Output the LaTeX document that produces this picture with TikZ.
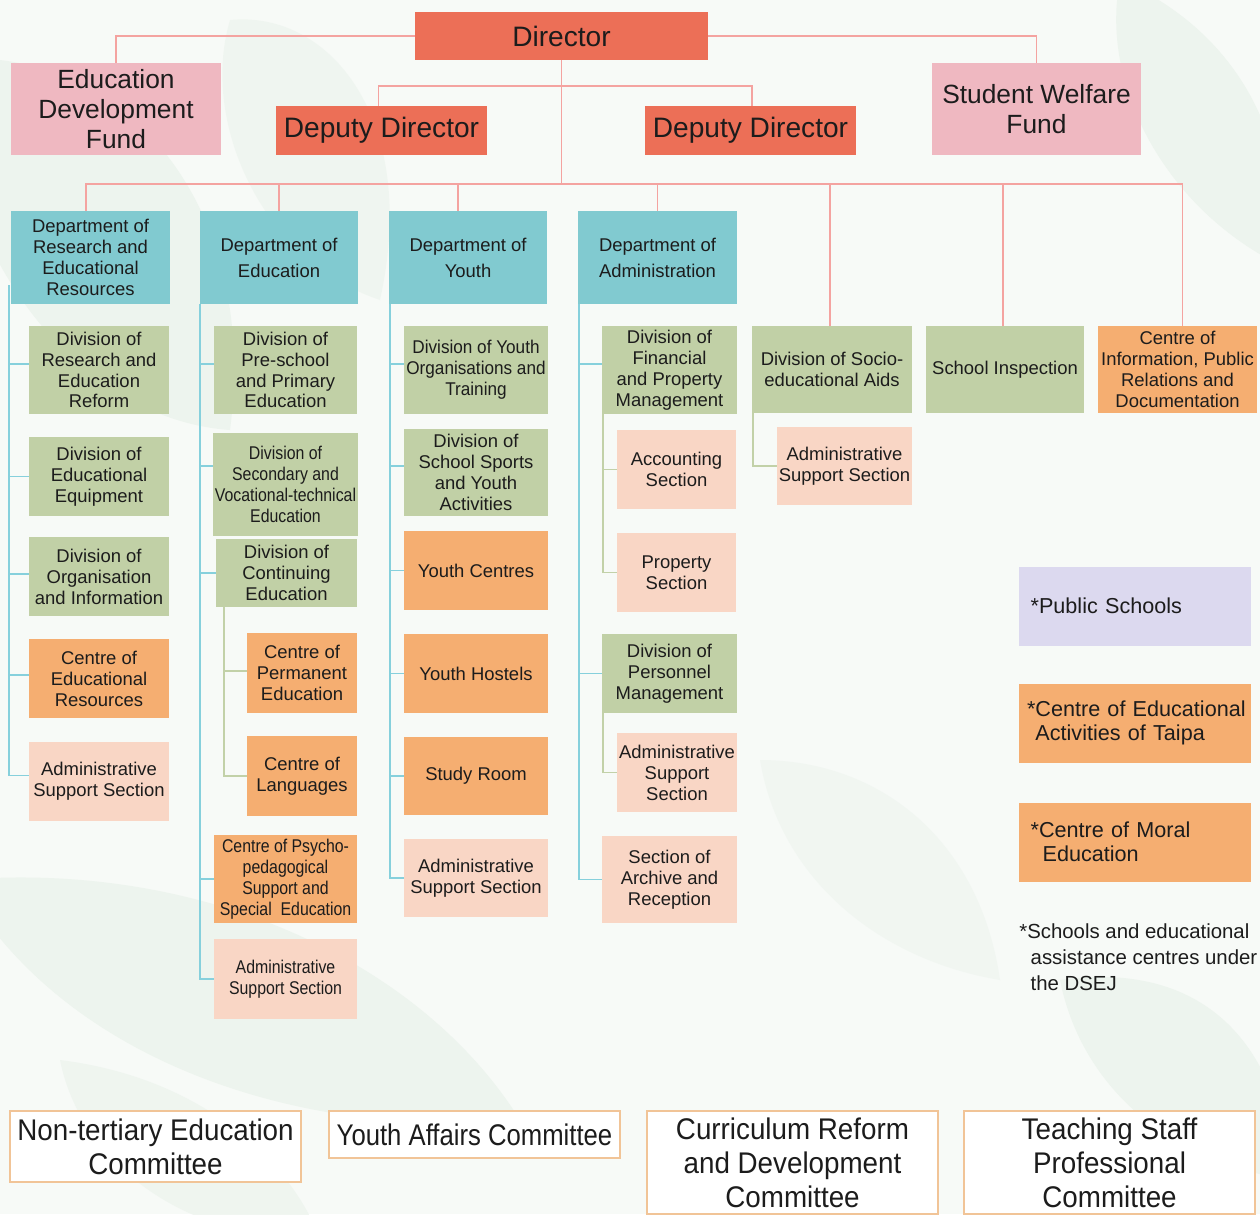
\documentclass[tikz,border=0pt]{standalone}
\usepackage{fontspec}
\setmainfont{Liberation Sans}
\newfontfamily\cf[FakeStretch=0.86]{Liberation Sans}
\newfontfamily\cfa[FakeStretch=0.93]{Liberation Sans}
\definecolor{ink}{HTML}{1C1C1C}
\definecolor{dirc}{HTML}{EC6F57}
\definecolor{fundc}{HTML}{EFB8C1}
\definecolor{deptc}{HTML}{81CAD0}
\definecolor{divc}{HTML}{C1D0A6}
\definecolor{ctrc}{HTML}{F5AE71}
\definecolor{secc}{HTML}{F9D6C5}
\definecolor{lavc}{HTML}{DCD9EF}
\definecolor{redl}{HTML}{F4A3A0}
\definecolor{tealc}{HTML}{86D0DC}
\definecolor{greenl}{HTML}{C2D1A8}
\definecolor{commc}{HTML}{F1C497}
\definecolor{bgc}{HTML}{F7FAF7}
\definecolor{leafc}{HTML}{EDF4EE}
\newcommand\ob[7]{%
  \pgfmathsetmacro\cx{(#3+#5)/2}\pgfmathsetmacro\cy{(#4+#6)/2}%
  \pgfmathsetmacro\ww{(#5-#3)*0.02}\pgfmathsetmacro\hh{(#6-#4)*0.02}%
  \node[#1, minimum width=\ww cm, minimum height=\hh cm] (#2) at (\cx,\cy) {#7};}
\tikzset{
  base/.style={inner sep=1pt, align=center, text=ink, font=\fontsize{10.5}{11.9}\selectfont},
  topbox/.style={base, fill=dirc, font=\fontsize{16}{18}\selectfont},
  fund/.style={base, fill=fundc, font=\fontsize{15}{17}\selectfont},
  dept/.style={base, fill=deptc},
  dept2/.style={base, fill=deptc, font=\fontsize{10.5}{14.7}\selectfont},
  divb/.style={base, fill=divc},
  ctr/.style={base, fill=ctrc},
  sec/.style={base, fill=secc},
  narrow/.style={font=\cf\fontsize{10.5}{11.9}\selectfont},
  semi/.style={font=\cfa\fontsize{10.5}{11.9}\selectfont},
  comm/.style={base, fill=white, draw=commc, line width=1pt, font=\cfa\fontsize{17}{19.3}\selectfont},
  sidebox/.style={inner xsep=0.16cm, inner ysep=1pt, align=left, text=ink, text width=4.32cm, font=\fontsize{12.3}{13.6}\selectfont},
  rl/.style={draw=redl, line width=1.1pt},
  tl/.style={draw=tealc, line width=1.1pt},
  gl/.style={draw=greenl, line width=1.1pt},
}
\begin{document}
\begin{tikzpicture}[x=0.02cm, y=-0.02cm]
\clip (0,0) rectangle (1260,1214);
\fill[bgc] (0,0) rectangle (1260,1214);
% faint background leaves
\fill[leafc] (-60,60) .. controls (120,40) and (260,200) .. (230,430) .. controls (90,420) and (-40,280) .. cycle;
\fill[leafc, opacity=0.7] (230,20) .. controls (330,10) and (420,120) .. (380,300) .. controls (260,260) and (200,120) .. cycle;
\fill[leafc] (1120,-20) .. controls (1260,40) and (1300,180) .. (1270,260) .. controls (1160,200) and (1100,80) .. cycle;
\fill[leafc] (-40,880) .. controls (200,860) and (420,960) .. (520,1120) .. controls (300,1140) and (60,1060) .. cycle;
\fill[leafc, opacity=0.8] (60,1060) .. controls (220,1080) and (300,1180) .. (320,1240) .. controls (180,1240) and (80,1160) .. cycle;
\fill[leafc] (1060,980) .. controls (1200,960) and (1280,1040) .. (1290,1180) .. controls (1160,1160) and (1080,1080) .. cycle;
\fill[leafc, opacity=0.6] (760,760) .. controls (880,760) and (980,840) .. (1000,980) .. controls (880,960) and (780,880) .. cycle;

% top level
\ob{topbox}{dir}{415}{12}{708}{60}{Director}
\ob{fund}{edf}{11}{63}{221}{155}{Education\\Development\\Fund}
\ob{topbox}{dep1}{276}{106}{487}{155}{Deputy Director}
\ob{topbox}{dep2}{645}{106}{856}{155}{Deputy Director}
\ob{fund}{swf}{932}{63}{1141}{155}{Student Welfare\\Fund}

% departments
\ob{dept}{d1}{11}{211}{170}{304}{Department of\\Research and\\Educational\\Resources}
\ob{dept2}{d2}{200}{211}{358}{304}{Department of\\Education}
\ob{dept2}{d3}{389}{211}{547}{304}{Department of\\Youth}
\ob{dept2}{d4}{578}{211}{737}{304}{Department of\\Administration}

% column 1
\ob{divb}{c1a}{29}{326}{169}{414}{Division of\\Research and\\Education\\Reform}
\ob{divb}{c1b}{29}{437}{169}{516}{Division of\\Educational\\Equipment}
\ob{divb}{c1c}{29}{537}{169}{616}{Division of\\Organisation\\and Information}
\ob{ctr}{c1d}{29}{639}{169}{718}{Centre of\\Educational\\Resources}
\ob{sec}{c1e}{29}{742}{169}{821}{Administrative\\Support Section}

% column 2
\ob{divb}{c2a}{214}{326}{357}{414}{Division of\\Pre-school\\and Primary\\Education}
\ob{divb, narrow}{c2b}{214}{433}{357}{536}{Division of\\Secondary and\\Vocational-technical\\Education}
\ob{divb}{c2c}{216}{539}{357}{607}{Division of\\Continuing\\Education}
\ob{ctr}{c2d}{247}{633}{357}{713}{Centre of\\Permanent\\Education}
\ob{ctr}{c2e}{247}{736}{357}{816}{Centre of\\Languages}
\ob{ctr, narrow}{c2f}{214}{835}{357}{923}{Centre of Psycho-\\pedagogical\\Support and\\Special\ \ Education}
\ob{sec, narrow}{c2g}{214}{939}{357}{1019}{Administrative\\Support Section}

% column 3
\ob{divb, semi}{c3a}{404}{326}{548}{414}{Division of Youth\\Organisations and\\Training}
\ob{divb}{c3b}{404}{429}{548}{516}{Division of\\School Sports\\and Youth\\Activities}
\ob{ctr}{c3c}{404}{531}{548}{610}{Youth Centres}
\ob{ctr}{c3d}{404}{634}{548}{713}{Youth Hostels}
\ob{ctr}{c3e}{404}{737}{548}{815}{Study Room}
\ob{sec}{c3f}{404}{839}{548}{917}{Administrative\\Support Section}

% column 4
\ob{divb}{c4a}{602}{326}{737}{414}{Division of\\Financial\\and Property\\Management}
\ob{sec}{c4b}{617}{430}{736}{509}{Accounting\\Section}
\ob{sec}{c4c}{617}{533}{736}{612}{Property\\Section}
\ob{divb}{c4d}{602}{634}{737}{713}{Division of\\Personnel\\Management}
\ob{sec}{c4e}{617}{733}{737}{812}{Administrative\\Support\\Section}
\ob{sec}{c4f}{602}{836}{737}{923}{Section of\\Archive and\\Reception}

% right units
\ob{divb}{socio}{752}{326}{912}{413}{Division of Socio-\\educational Aids}
\ob{sec}{sadm}{777}{427}{912}{505}{Administrative\\Support Section}
\ob{divb}{insp}{926}{326}{1084}{413}{School Inspection}
\ob{ctr}{cinfo}{1098}{326}{1257}{413}{Centre of\\Information, Public\\Relations and\\Documentation}

% side boxes
\node[sidebox, fill=lavc, minimum height=1.58cm] (pub) at (1135,606) {\,*Public Schools};
\node[sidebox, fill=ctrc, minimum height=1.58cm] (taipa) at (1135,723) {\mbox{*Centre of Educational}\\\hphantom{*}Activities of Taipa};
\node[sidebox, fill=ctrc, minimum height=1.58cm] (moral) at (1135,842) {\,*Centre of Moral\\\hphantom{*}\,\,Education};
\node[anchor=north west, inner sep=0pt, align=left, text=ink, font=\fontsize{11.6}{15}\selectfont] (note) at (1019,923) {*Schools and educational\\\hphantom{*}\,assistance centres under\\\hphantom{*}\,the DSEJ};

% committees
\ob{comm}{k1}{10}{1111}{301}{1182}{Non-tertiary Education\\Committee}
\ob{comm, font=\cf\fontsize{17}{19.3}\selectfont}{k2}{329}{1111}{620}{1158}{Youth Affairs Committee}
\ob{comm}{k3}{647}{1111}{938}{1214}{Curriculum Reform\\and Development\\Committee}
\ob{comm}{k4}{964}{1111}{1255}{1214}{Teaching Staff\\Professional\\Committee}

% red connectors
\coordinate (hub) at (561.5,184);
\coordinate (dj) at (561.5,86);
\draw[rl] (dir.west) -| (edf.north);
\draw[rl] (dir.east) -| (swf.north);
\draw[rl] (dir.south) -- (hub);
\draw[rl] ([xshift=-0.06cm]dep1.north) |- (dj) -| ([xshift=0.03cm]dep2.north);
\draw[rl] ([xshift=-0.09cm]d1.north) |- (hub) -| ([xshift=0.1cm]cinfo.north);
\draw[rl] (d2.north) -- (d2.north |- hub);
\draw[rl] ([xshift=-0.2cm]d3.north) -- ([xshift=-0.2cm]d3.north |- hub);
\draw[rl] (d4.north) -- (d4.north |- hub);
\draw[rl] ([xshift=-0.04cm]socio.north) -- ([xshift=-0.04cm]socio.north |- hub);
\draw[rl] ([xshift=-0.04cm]insp.north) -- ([xshift=-0.04cm]insp.north |- hub);

% teal column connectors
\coordinate (t1) at ([xshift=-0.04cm,yshift=0.38cm]d1.south west);
\draw[tl] (t1) |- ([yshift=0.12cm]c1e.west);
\draw[tl] ([yshift=0.12cm]t1 |- c1a.west) -- ([yshift=0.12cm]c1a.west);
\draw[tl] (t1 |- c1b.west) -- (c1b.west);
\draw[tl] ([yshift=0.05cm]t1 |- c1c.west) -- ([yshift=0.05cm]c1c.west);
\draw[tl] ([yshift=0.07cm]t1 |- c1d.west) -- ([yshift=0.07cm]c1d.west);

\coordinate (t2) at (d2.south west);
\draw[tl] (t2) |- (c2g.west);
\draw[tl] ([yshift=0.12cm]t2 |- c2a.west) -- ([yshift=0.12cm]c2a.west);
\draw[tl] ([yshift=0.37cm]t2 |- c2b.west) -- ([yshift=0.37cm]c2b.west);
\draw[tl] (t2 |- c2c.west) -- (c2c.west);
\draw[tl] (t2 |- c2f.west) -- (c2f.west);

\coordinate (t3) at ([xshift=0.02cm]d3.south west);
\draw[tl] (t3) |- (c3f.west);
\draw[tl] ([yshift=0.12cm]t3 |- c3a.west) -- ([yshift=0.12cm]c3a.west);
\draw[tl] ([yshift=0.13cm]t3 |- c3b.west) -- ([yshift=0.13cm]c3b.west);
\draw[tl] (t3 |- c3c.west) -- (c3c.west);
\draw[tl] (t3 |- c3d.west) -- (c3d.west);
\draw[tl] (t3 |- c3e.west) -- (c3e.west);

\coordinate (t4) at ([xshift=0.02cm]d4.south west);
\draw[tl] (t4) |- (c4f.west);
\draw[tl] ([yshift=0.12cm]t4 |- c4a.west) -- ([yshift=0.12cm]c4a.west);
\draw[tl] (t4 |- c4d.west) -- (c4d.west);

% green sub-connectors
\coordinate (g2) at ([xshift=0.16cm]c2c.south west);
\draw[gl] (g2) |- (c2e.west);
\draw[gl] ([yshift=0.04cm]g2 |- c2d.west) -- ([yshift=0.04cm]c2d.west);
\coordinate (g4a) at ([xshift=0.02cm]c4a.south west);
\draw[gl] (g4a) |- (c4c.west);
\draw[gl] (g4a |- c4b.west) -- (c4b.west);
\coordinate (g4d) at ([xshift=0.02cm]c4d.south west);
\draw[gl] (g4d) |- (c4e.west);
\coordinate (gs) at ([xshift=0.02cm]socio.south west);
\draw[gl] (gs) |- (sadm.west);
\end{tikzpicture}
\end{document}
